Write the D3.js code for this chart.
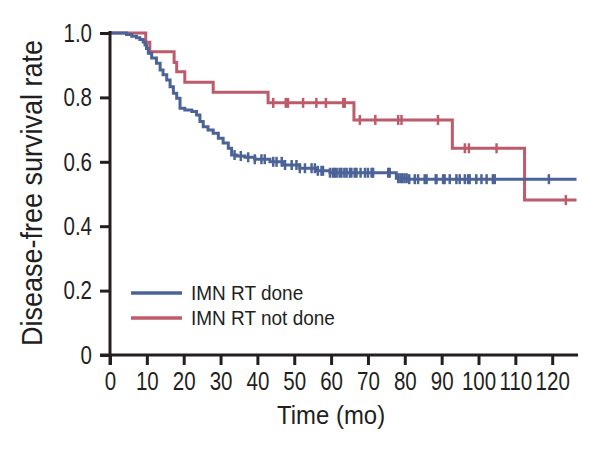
<!DOCTYPE html>
<html>
<head>
<meta charset="utf-8">
<script src="https://cdn.jsdelivr.net/npm/d3@7"></script>
<style>
  html, body { margin: 0; padding: 0; background: #fff; }
  svg text { font-family: "Liberation Sans", Arial, sans-serif; fill: #231f20; }
</style>
</head>
<body>
<svg id="chart" width="604" height="450"></svg>
<script>
// ---- Data ----
const xTicks = [0, 10, 20, 30, 40, 50, 60, 70, 80, 90, 100, 110, 120];
const yTicks = [0, 0.2, 0.4, 0.6, 0.8, 1.0];
const yTickLabels = ["0", "0.2", "0.4", "0.6", "0.8", "1.0"];
const seriesNames = ["IMN RT done", "IMN RT not done"];

const doneTimes = [0, 4.5, 5.9, 7.2, 8.1, 9.0, 9.5, 9.9, 10.4, 11.3, 12.6, 13.6, 14.4, 15.4, 16.3, 17.2, 18.1, 19.0, 20.3, 22.2, 23.5, 24.4, 25.3, 26.6, 28.0, 29.4, 30.7, 32.1, 33.0, 34.4, 36.6, 39.3, 43.4, 47.0, 51.5, 56.0, 59.7, 77.7, 81.0];
const doneSurv  = [1.0, 0.995, 0.990, 0.985, 0.980, 0.972, 0.963, 0.952, 0.937, 0.922, 0.906, 0.885, 0.870, 0.854, 0.833, 0.813, 0.797, 0.766, 0.761, 0.756, 0.745, 0.725, 0.709, 0.699, 0.689, 0.673, 0.658, 0.642, 0.621, 0.618, 0.614, 0.608, 0.600, 0.590, 0.580, 0.572, 0.566, 0.549, 0.546];
const doneEnd = 126.6;
const doneCensor = [33.8, 35.5, 37.5, 39.3, 41.1, 42, 44.3, 45.2, 46.6, 47.5, 49.3, 50.6, 51.5, 52.9, 54.7, 55.6, 56.4, 57.4, 57.8, 59.7, 60.5, 61, 61.5, 62.3, 62.8, 63.6, 64.2, 65.1, 65.5, 66.4, 66.9, 68, 69.2, 70, 71, 71.4, 75.5, 75.9, 78.2, 78.8, 79.3, 79.9, 80.5, 81.2, 82.7, 83.6, 85.4, 85.9, 88.4, 88.6, 90.4, 90.8, 92.2, 94, 94.9, 96.3, 97.2, 97.6, 99.4, 100.8, 102.2, 103.9, 104.4, 119.1];

const notDoneTimes = [0, 9.7, 10.8, 17.4, 18.1, 20.3, 28.0, 42.9, 66.2, 92.9, 112.5];
const notDoneSurv  = [1.0, 0.971, 0.942, 0.908, 0.880, 0.847, 0.816, 0.783, 0.730, 0.642, 0.481];
const notDoneEnd = 126.6;
const notDoneCensor = [44.3, 47.7, 48.3, 52.4, 56, 58.6, 63.3, 63.7, 67.8, 72, 78.2, 79.1, 89, 96.3, 97.4, 104.9, 123.7];

// ---- Layout ----
const colors = ["#4b6397", "#bd5b6b"];
const ink = "#231f20";
const svg = d3.select("#chart");
const x = d3.scaleLinear().domain([0, 127]).range([110, 578]);
const y = d3.scaleLinear().domain([0, 1]).range([355, 33]);

function buildSeries(times, surv, end) {
  const pts = times.map((t, i) => [t, surv[i]]);
  pts.push([end, surv[surv.length - 1]]);
  return pts;
}
function survAt(times, surv, t) {
  let v = surv[0];
  for (let i = 0; i < times.length; i++) if (times[i] <= t) v = surv[i];
  return v;
}

const series = [
  { pts: buildSeries(doneTimes, doneSurv, doneEnd), times: doneTimes, surv: doneSurv, censor: doneCensor },
  { pts: buildSeries(notDoneTimes, notDoneSurv, notDoneEnd), times: notDoneTimes, surv: notDoneSurv, censor: notDoneCensor }
];

const line = d3.line().x(d => x(d[0])).y(d => y(d[1])).curve(d3.curveStepAfter);

[1, 0].forEach(i => {
  const s = series[i];
  svg.append("path")
    .attr("d", line(s.pts))
    .attr("fill", "none")
    .attr("stroke", colors[i])
    .attr("stroke-width", 3);
  svg.append("g").selectAll("line").data(s.censor).join("line")
    .attr("x1", d => x(d)).attr("x2", d => x(d))
    .attr("y1", d => y(survAt(s.times, s.surv, d)) - 5)
    .attr("y2", d => y(survAt(s.times, s.surv, d)) + 5)
    .attr("stroke", colors[i])
    .attr("stroke-width", 2.5);
});

// axes
const TS = 0.79; // horizontal condense for tick labels
const xAxis = svg.append("g").attr("transform", "translate(0,355)")
  .call(d3.axisBottom(x).tickValues(xTicks).tickSize(10).tickPadding(6).tickFormat(d3.format("d")));
const yAxis = svg.append("g").attr("transform", "translate(110,0)")
  .call(d3.axisLeft(y).tickValues(yTicks).tickSize(10).tickPadding(8).tickFormat((d, i) => yTickLabels[i]));
[xAxis, yAxis].forEach(g => {
  g.select(".domain").remove();
  g.selectAll(".tick line").attr("stroke", ink).attr("stroke-width", 3);
  g.selectAll(".tick text").attr("font-size", 26).attr("font-family", null).attr("fill", ink)
    .attr("transform", `scale(${TS},1)`);
});
xAxis.selectAll(".tick text").attr("dy", "0.71em").attr("y", 17);
yAxis.selectAll(".tick text").attr("x", -18 / TS);

svg.append("line").attr("x1", 100).attr("x2", x(127)).attr("y1", y(0)).attr("y2", y(0))
  .attr("stroke", ink).attr("stroke-width", 3);
svg.append("line").attr("x1", x(0)).attr("x2", x(0)).attr("y1", y(1) - 2).attr("y2", y(0) + 10)
  .attr("stroke", ink).attr("stroke-width", 3);

// titles
svg.append("text").attr("transform", `translate(${x(60)},424) scale(0.92,1)`).attr("text-anchor", "middle")
  .attr("font-size", 26).text("Time (mo)");
svg.append("text").attr("transform", "translate(42,193) rotate(-90) scale(0.9,1)").attr("text-anchor", "middle")
  .attr("font-size", 30).text("Disease-free survival rate");

// legend
const legend = svg.append("g");
seriesNames.forEach((name, i) => {
  const ly = 293 + i * 25;
  legend.append("line").attr("x1", 131).attr("x2", 182).attr("y1", ly).attr("y2", ly)
    .attr("stroke", colors[i]).attr("stroke-width", 3.5);
  legend.append("text").attr("x", 191 / 0.95).attr("y", ly).attr("dy", "0.35em")
    .attr("font-size", 20).attr("transform", "scale(0.95,1)").text(name);
});
</script>
</body>
</html>
